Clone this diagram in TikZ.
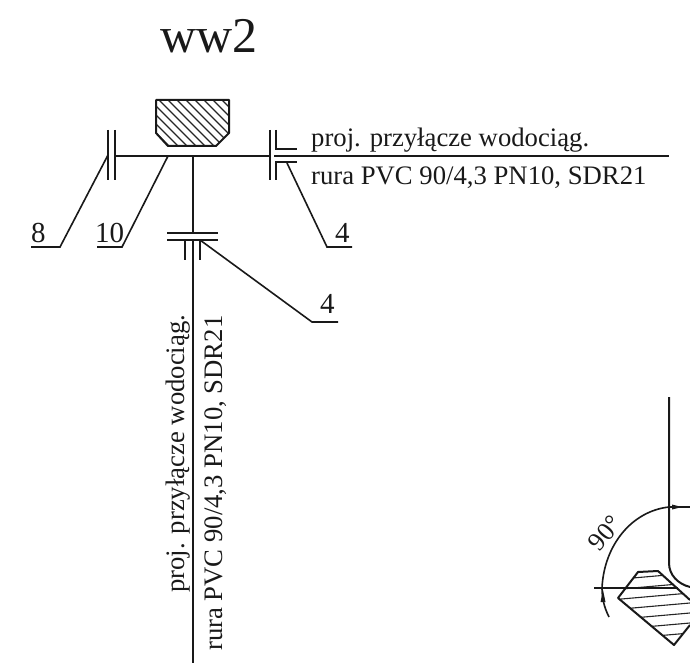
\documentclass[tikz,border=0pt]{standalone}
\usepackage{fontspec}
\setmainfont{Liberation Serif}
\tikzset{
 ink/.style={line width=2pt,black!90},
 thin ink/.style={line width=1.6pt,black!90},
 hatch/.style={line width=1.1pt,black!85},
 lbl/.style={inner sep=0pt,anchor=base west,font=\fontsize{26.7}{30}\selectfont,text=black!90},
 vlbl/.style={inner sep=0pt,anchor=base west,font=\fontsize{26.7}{30}\selectfont,text=black!90,rotate=90},
 num/.style={inner sep=0pt,anchor=base west,font=\fontsize{29}{32}\selectfont,text=black!90},
}
\begin{document}
\begin{tikzpicture}[x=1pt,y=-1pt]
\useasboundingbox (0,0) rectangle (690,663);
% title
\node[inner sep=0pt,anchor=base west,font=\fontsize{50}{55}\selectfont,text=black!90] (title) at (160,53) {ww2};
% hydrant block
\begin{scope}
\clip (156,100) -- (229,100) -- (229,133) -- (216,146) -- (168,146) -- (156,133) -- cycle;
\foreach \o in {-50,-41,...,90}{
 \draw[hatch] (150+\o,95) -- (210+\o,155);
}
\end{scope}
\draw[ink,line join=round] (156,100) -- (229,100) -- (229,133) -- (216,146) -- (168,146) -- (156,133) -- cycle;
% named points
\coordinate (mainL) at (115,156);
\coordinate (mainR) at (270,156);
\coordinate (runS) at (274,156);
\coordinate (runE) at (669,156);
\coordinate (tee) at (192.5,156);
\coordinate (flgB) at (192.5,233);
\coordinate (drop) at (192.5,240);
\coordinate (dropE) at (192.5,663);
\coordinate (a8) at (108,155);
\coordinate (b8) at (60,247);
\coordinate (c8) at (31,247);
\coordinate (a10) at (168,156);
\coordinate (b10) at (122,247);
\coordinate (c10) at (97,247);
\coordinate (a4) at (287,163);
\coordinate (b4) at (327,247);
\coordinate (c4) at (352,247);
\coordinate (a4b) at (200,240);
\coordinate (b4b) at (312,322);
\coordinate (c4b) at (338,322);
% pipes
\draw[ink] (mainL) -- (mainR);
\draw[ink] (runS) -- (runE);
\draw[ink] (tee) -- (flgB);
\draw[ink] (drop) -- (dropE);
% left fitting
\draw[ink] (108,130) -- (108,180);
\draw[ink] (115,130) -- (115,180);
% right fitting
\draw[ink] (270,130) -- (270,180);
\draw[ink] (276,130) -- (276,149) -- (297,149);
\draw[ink] (276,180) -- (276,162) -- (297,162);
% lower fitting
\draw[ink] (167,233) -- (218,233);
\draw[ink] (167,240) -- (218,240);
\draw[ink] (185,240) -- (185,260);
\draw[ink] (200,240) -- (200,260);
% leaders
\draw[thin ink] (a8) -- (b8) -- (c8);
\draw[thin ink] (a10) -- (b10) -- (c10);
\draw[thin ink] (a4) -- (b4) -- (c4);
\draw[thin ink] (a4b) -- (b4b) -- (c4b);
% numbers
\node[num] (n8) at (31,242) {8};
\node[num] (n10) at (95,242) {10};
\node[num] (n4) at (335,242) {4};
\node[num] (n4b) at (320,313) {4};
% pipe labels
\node[lbl] (t1) at (311,147) {proj. przyłącze wodociąg.};
\node[lbl] (t2) at (311,184) {rura PVC 90/4,3 PN10, SDR21};
\node[vlbl] (t3) at (184,593) {proj. przyłącze wodociąg.};
\node[vlbl] (t4) at (222,651) {rura PVC 90/4,3 PN10, SDR21};
% lower right detail
\begin{scope}
\clip (618,598) -- (638,572) -- (658,571) -- (690,600) -- (690,625) -- (674,645) -- cycle;
\foreach \o in {0,10,...,90}{
 \draw[hatch] (610,570+\o) -- (690,563+\o);
}
\end{scope}
\draw[ink,line join=round] (690,600) -- (658,571) -- (638,572) -- (618,598) -- (674,645) -- (690,625);
\draw[ink] (669,397) -- (669,563) .. controls (669,575) and (678,584) .. (690,587);
\draw[ink] (594,588) -- (678,588);
\draw[thin ink] (690,507) -- (669,507) .. controls (632,511) and (604,545) .. (602,588) .. controls (602,598) and (604,607) .. (609,617);
\fill[black!90] (682,507) -- (672,504.5) -- (672,509.5) -- cycle;
\fill[black!90] (603,590) -- (600.5,602) -- (605.5,602) -- cycle;
\node[inner sep=0pt,rotate=50,font=\fontsize{26}{28}\selectfont,text=black!90] (ang) at (605,533) {90°};
\end{tikzpicture}
\end{document}
